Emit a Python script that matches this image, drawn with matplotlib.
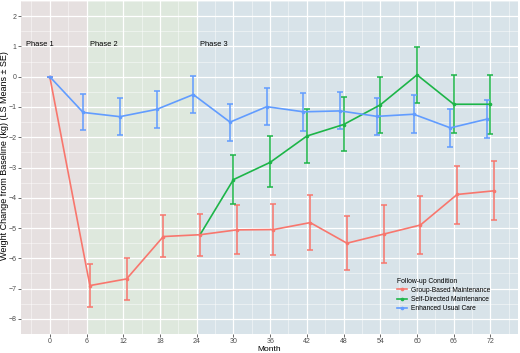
import numpy as np
import matplotlib.pyplot as plt
from matplotlib.lines import Line2D

plt.rcParams['font.family'] = ['Liberation Sans', 'DejaVu Sans']

# data (LS means and +/- SE limits)
months = [0, 6, 12, 18, 24, 30, 36, 42, 48, 54, 60, 66, 72]

group_mean = [0, -6.90, -6.68, -5.28, -5.22, -5.06, -5.05, -4.82, -5.50, -5.20, -4.90, -3.89, -3.77]
group_hi = [0, -6.20, -6.00, -4.58, -4.54, -4.23, -4.19, -3.90, -4.59, -4.25, -3.93, -2.94, -2.80]
group_lo = [0, -7.60, -7.38, -5.97, -5.93, -5.87, -5.90, -5.71, -6.40, -6.14, -5.86, -4.86, -4.74]

self_months = [24, 30, 36, 42, 48, 54, 60, 66, 72]
self_mean = [-5.22, -3.40, -2.83, -1.96, -1.58, -0.93, 0.06, -0.91, -0.91]
self_hi = [-5.22, -2.60, -1.97, -1.08, -0.67, -0.01, 0.99, 0.04, 0.04]
self_lo = [-5.22, -4.20, -3.65, -2.85, -2.47, -1.86, -0.87, -1.87, -1.88]

usual_mean = [0, -1.18, -1.32, -1.08, -0.59, -1.50, -0.99, -1.16, -1.13, -1.31, -1.24, -1.69, -1.40]
usual_hi = [0, -0.56, -0.72, -0.48, 0.02, -0.90, -0.37, -0.55, -0.52, -0.69, -0.62, -1.08, -0.78]
usual_lo = [0, -1.77, -1.92, -1.69, -1.19, -2.12, -1.59, -1.78, -1.74, -1.94, -1.86, -2.33, -2.04]

phases = ["Phase 1", "Phase 2", "Phase 3"]
phase_edges = [-10, 6, 24, 90]
phase_colors = ["#E6E0E0", "#DEE8DD", "#D8E3E9"]

RED, GREEN, BLUE = "#F8766D", "#1DB548", "#619CFF"
dodge = 0.55

fig = plt.figure(figsize=(5.2, 3.53), dpi=100)
ax = fig.add_axes([0.0404, 0.0538, 0.9558, 0.9433])

for i, name in enumerate(phases):
    ax.axvspan(phase_edges[i], phase_edges[i + 1], color=phase_colors[i], zorder=0, lw=0)
    ax.text(phase_edges[i] + 0.5 if i else -3.9, 1.07, name, fontsize=5.4, va="center", ha="left")


def draw(x, mean, lo, hi, color, shift):
    x = np.array(x, dtype=float)
    x[x > 0] += shift
    mean = np.array(mean)
    err = [mean - np.array(lo), np.array(hi) - mean]
    ax.errorbar(x, mean, yerr=err, color=color, lw=1.2, elinewidth=1.1,
                capsize=2.2, capthick=1.1, marker="o", ms=1.6, zorder=3)


draw(months, group_mean, group_lo, group_hi, RED, dodge)
draw(self_months[1:], self_mean[1:], self_lo[1:], self_hi[1:], GREEN, 0)
ax.plot([self_months[0] + dodge, self_months[1]], self_mean[:2], color=GREEN, lw=1.2, zorder=3)
draw(months, usual_mean, usual_lo, usual_hi, BLUE, -dodge)

ax.set_xlim(-4.7, 76.5)
ax.set_ylim(-8.5, 2.5)
ax.set_xticks(months)
ax.set_yticks(range(-8, 3))
ax.set_xticks(np.arange(-3, 76, 6), minor=True)
ax.set_yticks(np.arange(-8.5, 2.6, 1), minor=True)
ax.set_axisbelow(True)
ax.grid(which="major", color="white", lw=0.9)
ax.grid(which="minor", color="white", lw=0.4, alpha=0.8)
ax.tick_params(which="major", labelsize=5, colors="#4D4D4D", length=2, width=0.6, pad=1.2)
ax.tick_params(which="minor", length=0)
for s in ax.spines.values():
    s.set_visible(False)

ax.set_xlabel("Month", fontsize=6)
ax.set_ylabel("Weight Change from Baseline (kg) (LS Means \u00b1 SE)", fontsize=6.5)
ax.xaxis.set_label_coords(0.5, -0.036)
ax.yaxis.set_label_coords(-0.025, 0.535)

handles = [Line2D([], [], color=c, lw=1.2, marker="o", ms=1.6)
           for c in (RED, GREEN, BLUE)]
leg = ax.legend(handles, ["Group-Based Maintenance", "Self-Directed Maintenance", "Enhanced Usual Care"],
                title="Follow-up Condition", loc="lower left", bbox_to_anchor=(0.757, 0.066),
                fontsize=4.8, title_fontsize=4.9, frameon=False, handlelength=1.5,
                handletextpad=0.6, labelspacing=0.32, borderpad=0, borderaxespad=0)
leg._legend_box.align = "left"

fig.savefig("out.png", dpi=100)
